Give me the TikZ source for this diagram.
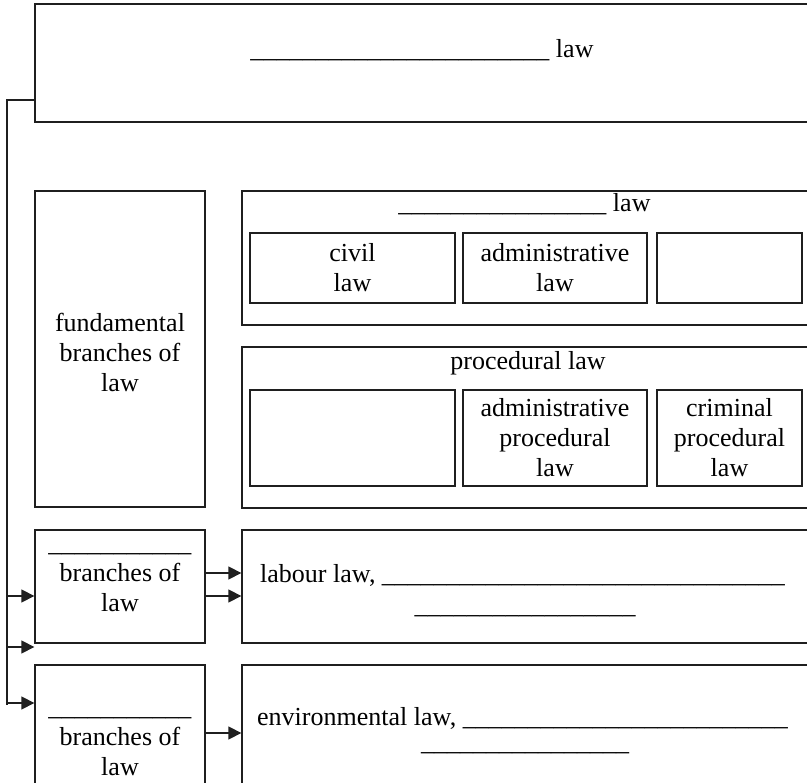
\documentclass[tikz,border=0pt]{standalone}
\usepackage{fontspec}
\setmainfont{Liberation Serif}
\usetikzlibrary{arrows.meta}
% a run of n underscores, used for the blanks to fill in
\newcount\blankcount
\newcommand{\blanks}[1]{\blankcount=#1\relax\loop\textunderscore\advance\blankcount by -1\relax\ifnum\blankcount>0\repeat}
\begin{document}
\begin{tikzpicture}[x=1pt,y=-1pt,
  box/.style={draw=black!88,line width=1.3pt,inner sep=0pt,align=center,font=\fontsize{26}{30}\selectfont},
  label/.style={inner sep=0pt,align=center,font=\fontsize{26}{30}\selectfont},
  plain/.style={inner sep=0pt,font=\fontsize{26}{30}\selectfont},
  conn/.style={draw=black!88,line width=1.3pt},
  tip/.style={conn,-{Triangle[length=13pt,width=13pt]}}]
\useasboundingbox (0,0) rectangle (807,783);
\clip (0,0) rectangle (807,783);

% top box
\node[box,minimum width=775pt,minimum height=118pt] (lawtop) at (422.5,63) {};
\node[plain,anchor=base] (lawtoptext) at (422,58) {\blanks{23} law};

% fundamental branches
\node[box,minimum width=170pt,minimum height=316pt] (fund) at (120,349) {};
\node[label] (fundtext) at (120,352) {fundamental\\branches of\\law};

% substantive law group
\node[box,minimum width=568pt,minimum height=134pt] (subst) at (526,258) {};
\node[plain,anchor=base] (substtitle) at (524.5,212) {\blanks{16} law};
\node[box,minimum width=205pt,minimum height=70pt] (civil) at (352.5,268) {civil\\law};
\node[box,minimum width=184pt,minimum height=70pt] (adminlaw) at (555,268) {administrative\\law};
\node[box,minimum width=145pt,minimum height=70pt] (substblank) at (729.5,268) {};

% procedural law group
\node[box,minimum width=568pt,minimum height=161pt] (proc) at (526,427.5) {};
\node[plain,anchor=base] (proctitle) at (528,370) {procedural law};
\node[box,minimum width=205pt,minimum height=96pt] (procblank) at (352.5,438) {};
\node[box,minimum width=184pt,minimum height=96pt] (adminproc) at (555,438) {administrative\\procedural\\law};
\node[box,minimum width=145pt,minimum height=96pt] (crimproc) at (729.5,438) {criminal\\procedural\\law};

% third row
\node[box,minimum width=170pt,minimum height=113pt] (branch1) at (120,586.5) {};
\node[label] (branch1text) at (120,581.5) {\blanks{11}\\branches of\\law};
\node[box,minimum width=568pt,minimum height=113pt] (labour) at (526,586.5) {};
\node[plain,anchor=base west] (labourline) at (260,583) {labour law, \blanks{31}};
\node[plain,anchor=base] (labourline2) at (525,614) {\blanks{17}};

% fourth row
\node[box,minimum width=170pt,minimum height=135pt] (branch2) at (120,732.5) {};
\node[label] (branch2text) at (120,746) {\blanks{11}\\branches of\\law};
\node[box,minimum width=568pt,minimum height=135pt] (env) at (526,732.5) {};
\node[plain,anchor=base west] (envline) at (257,725) {environmental law, \blanks{25}};
\node[plain,anchor=base] (envline2) at (525,750) {\blanks{16}};

% trunk on the left
\coordinate (trunktop) at (7,100);
\coordinate (trunkend) at (7,705);
\draw[conn] (lawtop.west |- trunktop) -- (trunktop) -- (trunkend);
\coordinate (t1) at (7,596);
\coordinate (t2) at (7,647);
\coordinate (t3) at (7,703);
\draw[tip] (t1) -- (t1 -| branch1.west);
\draw[tip] (t2) -- (t2 -| branch1.west);
\draw[tip] (t3) -- (t3 -| branch2.west);

% arrows to the right-hand boxes
\coordinate (r1) at (205,573);
\coordinate (r2) at (205,596);
\coordinate (r3) at (205,733);
\draw[tip] (r1 -| branch1.east) -- (r1 -| labour.west);
\draw[tip] (r2 -| branch1.east) -- (r2 -| labour.west);
\draw[tip] (r3 -| branch2.east) -- (r3 -| env.west);
\end{tikzpicture}
\end{document}
